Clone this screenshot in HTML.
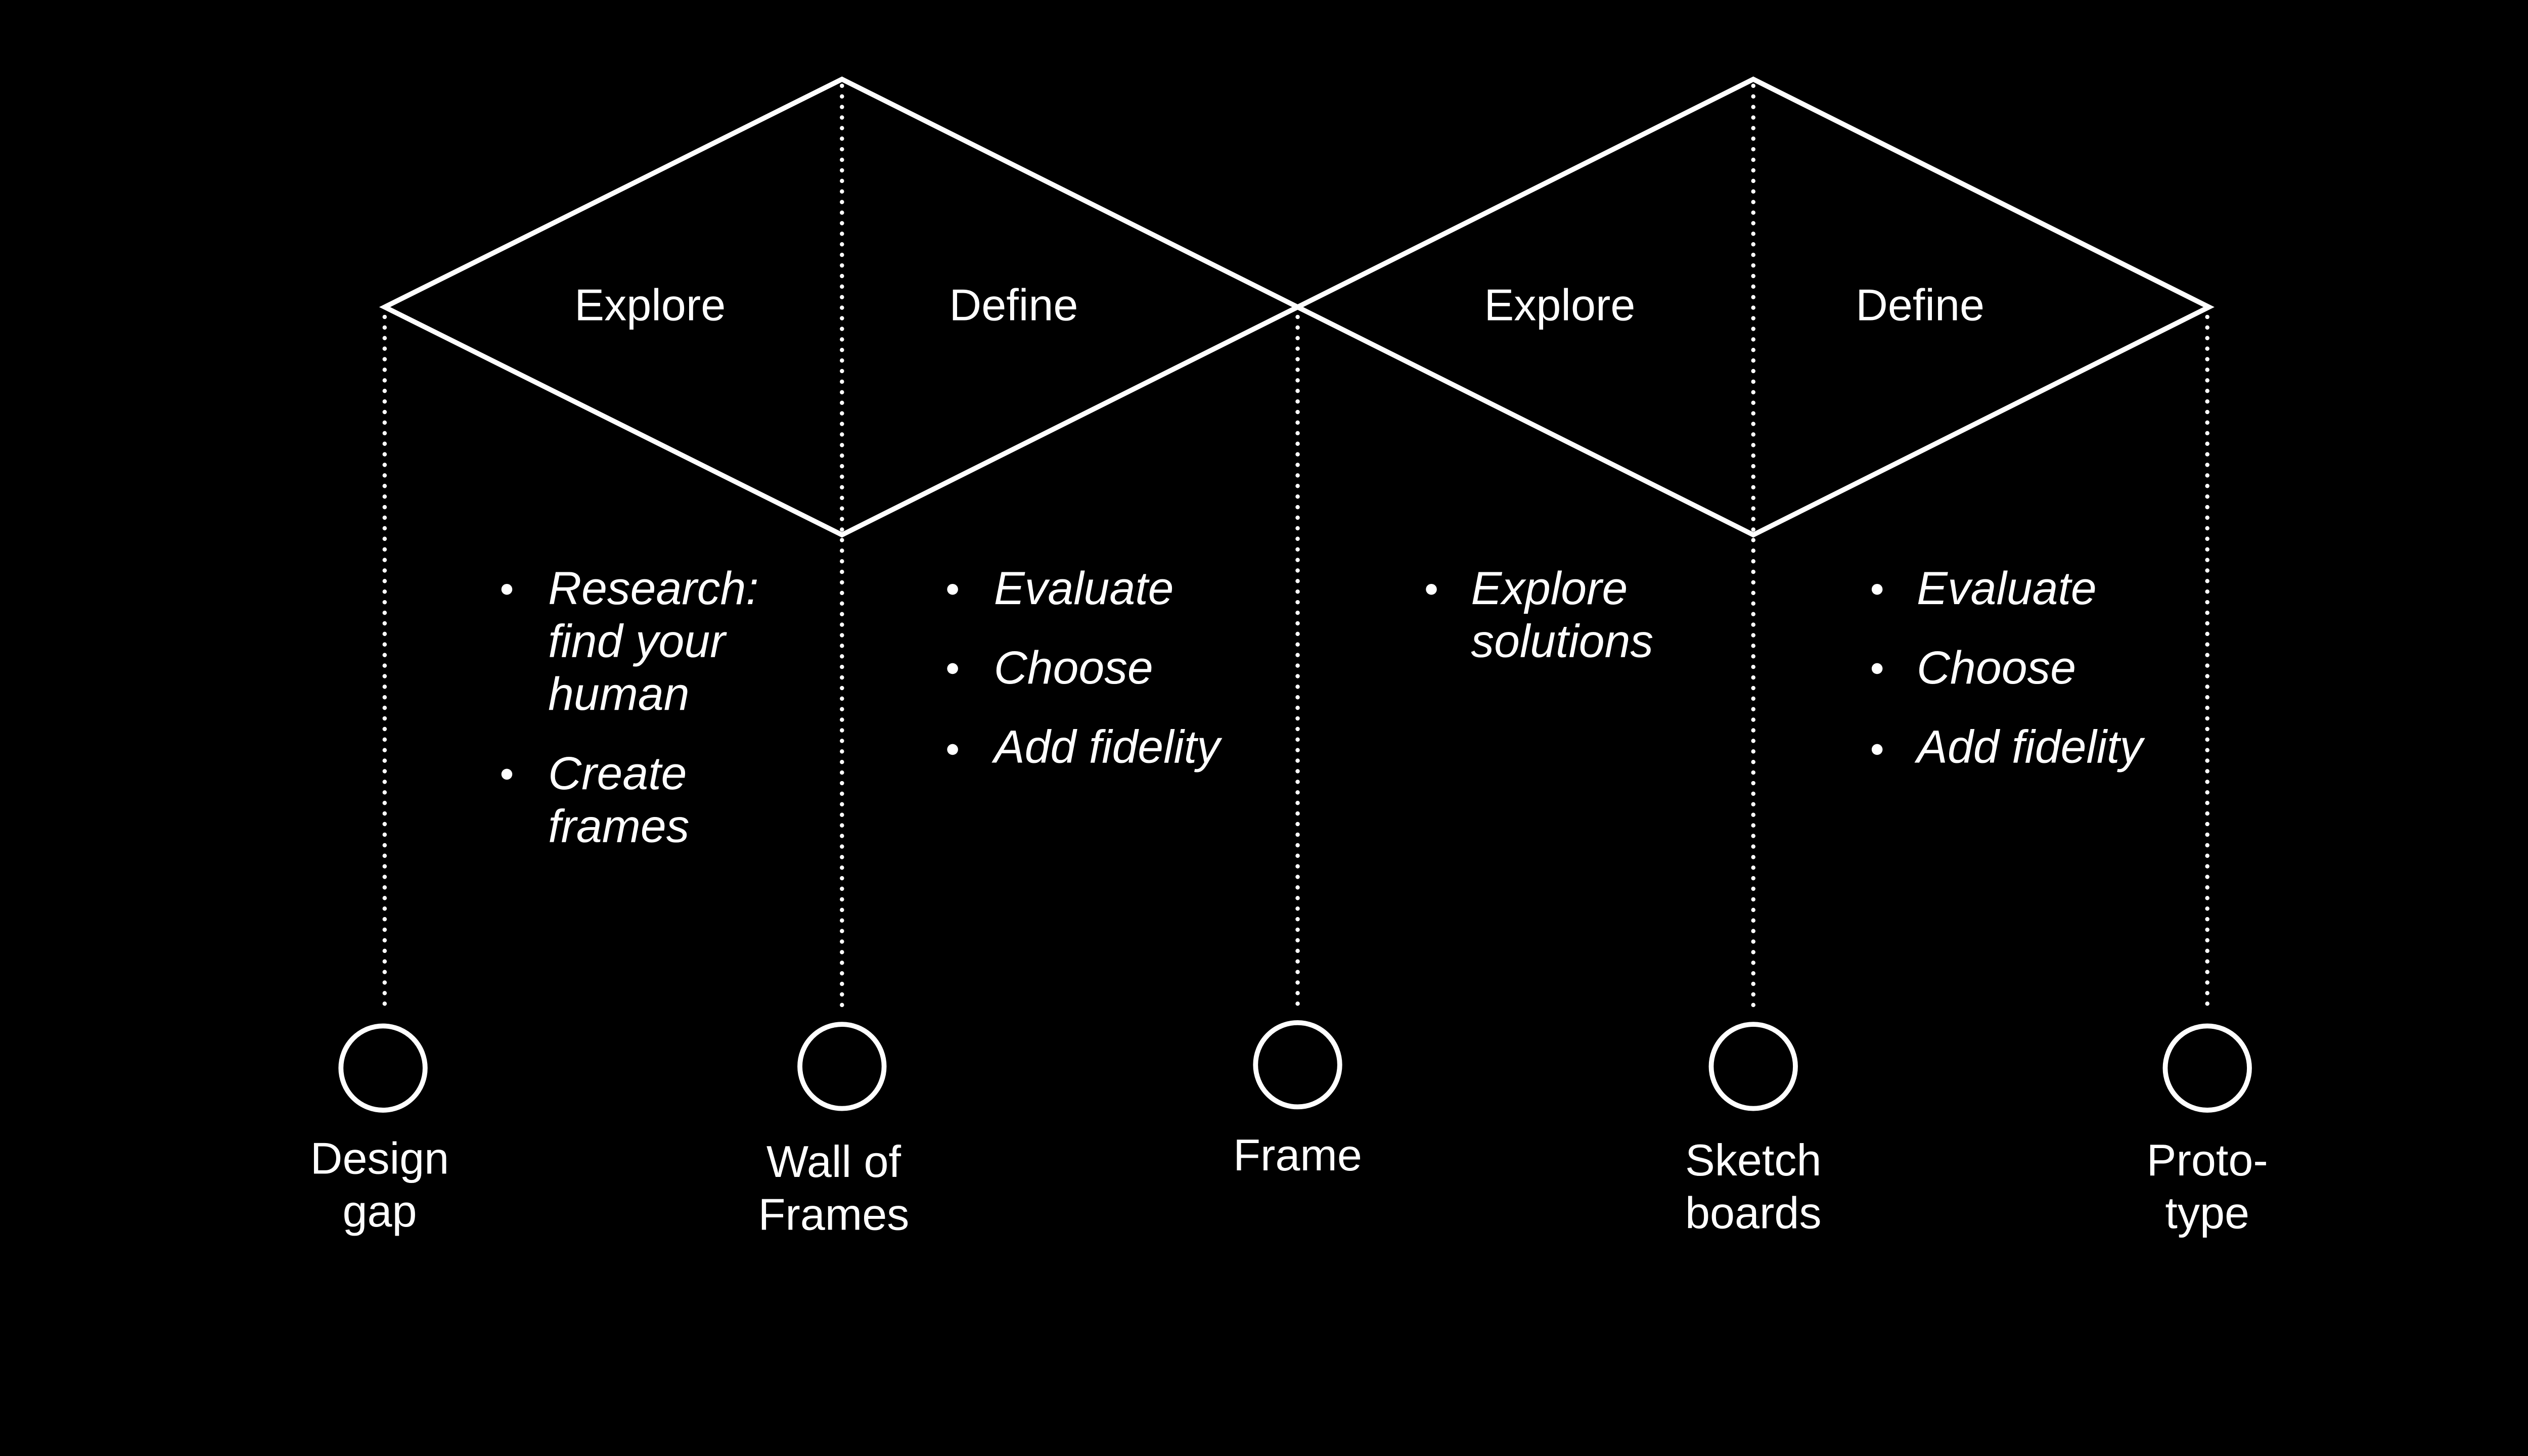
<!DOCTYPE html>
<html><head><meta charset="utf-8"><style>
html,body{margin:0;padding:0;background:#000;}
svg{display:block;}
text{font-family:"Liberation Sans",sans-serif;fill:#fff;}
.it{font-style:italic;font-size:28px;}
.h{font-size:27px;}
.lb{font-size:27px;text-anchor:middle;}
</style></head><body>
<svg width="5120" height="2880" viewBox="0 0 1568 882" xmlns="http://www.w3.org/2000/svg">
<rect width="1568" height="882" fill="#000"/>
<g stroke="#fff" stroke-width="2.6" stroke-dasharray="0 6.4" stroke-linecap="round" fill="none">
<line x1="233" y1="192" x2="233" y2="612"/>
<line x1="510" y1="52" x2="510" y2="612"/>
<line x1="786" y1="192" x2="786" y2="612"/>
<line x1="1062" y1="52" x2="1062" y2="612"/>
<line x1="1337" y1="192" x2="1337" y2="612"/>
</g>
<g stroke="#fff" stroke-width="3" fill="none" stroke-linejoin="miter">
<polygon points="233,186 510,48 786,186 510,324"/>
<polygon points="786,186 1062,48 1338,186 1062,324"/>
<circle cx="232" cy="647" r="25.5"/>
<circle cx="510" cy="646" r="25.5"/>
<circle cx="786" cy="645" r="25.5"/>
<circle cx="1062" cy="646" r="25.5"/>
<circle cx="1337" cy="647" r="25.5"/>
</g>
<text class="h" x="348" y="194">Explore</text>
<text class="h" x="575" y="194">Define</text>
<text class="h" x="899" y="194">Explore</text>
<text class="h" x="1124" y="194">Define</text>
<g fill="#fff">
<circle cx="307" cy="357" r="3.3"/><circle cx="307" cy="469" r="3.3"/>
<circle cx="577" cy="357" r="3.3"/><circle cx="577" cy="405" r="3.3"/><circle cx="577" cy="454" r="3.3"/>
<circle cx="867" cy="357" r="3.3"/>
<circle cx="1137" cy="357" r="3.3"/><circle cx="1137" cy="405" r="3.3"/><circle cx="1137" cy="454" r="3.3"/>
</g>
<text class="it" x="332" y="366">Research:</text>
<text class="it" x="332" y="398">find your</text>
<text class="it" x="332" y="430">human</text>
<text class="it" x="332" y="478">Create</text>
<text class="it" x="332" y="510">frames</text>
<text class="it" x="602" y="366">Evaluate</text>
<text class="it" x="602" y="414">Choose</text>
<text class="it" x="602" y="462">Add fidelity</text>
<text class="it" x="891" y="366">Explore</text>
<text class="it" x="891" y="398">solutions</text>
<text class="it" x="1161" y="366">Evaluate</text>
<text class="it" x="1161" y="414">Choose</text>
<text class="it" x="1161" y="462">Add fidelity</text>
<text class="lb" x="230" y="711">Design</text>
<text class="lb" x="230" y="743">gap</text>
<text class="lb" x="505" y="713">Wall of</text>
<text class="lb" x="505" y="745">Frames</text>
<text class="lb" x="786" y="709">Frame</text>
<text class="lb" x="1062" y="712">Sketch</text>
<text class="lb" x="1062" y="744">boards</text>
<text class="lb" x="1337" y="712">Proto-</text>
<text class="lb" x="1337" y="744">type</text>
</svg>
</body></html>
